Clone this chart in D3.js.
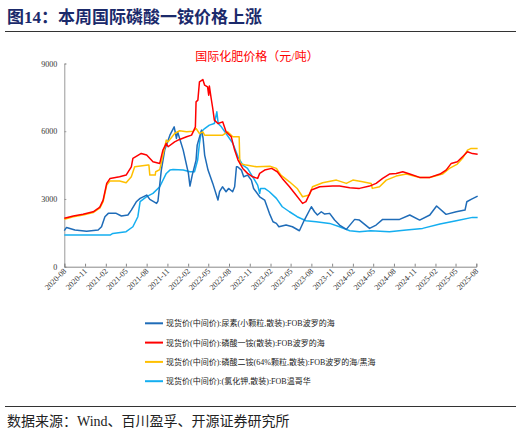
<!DOCTYPE html>
<html>
<head>
<meta charset="utf-8">
<script src="https://cdn.jsdelivr.net/npm/d3@7"></script>
<style>
  body { margin: 0; background: #fff; }
  text { font-family: "Liberation Serif", "Noto Sans CJK SC", serif; }
</style>
</head>
<body>
<svg width="521" height="436"></svg>
<script>
// 尿素 FOB 波罗的海
var urea = [
  ["2020-08-01",1600],["2020-08-11",1740],["2020-09-17",1622],["2020-11-08",1570],["2020-12-29",1622],
  ["2021-01-13",1770],["2021-01-28",2214],["2021-02-12",2362],["2021-03-19",2362],["2021-04-11",2244],
  ["2021-05-10",2288],["2021-05-25",2508],["2021-06-16",2876],["2021-07-03",3025],["2021-08-01",3173],
  ["2021-08-15",2980],["2021-09-14",2805],["2021-09-20",2900],["2021-10-05",4279],["2021-10-20",5164],
  ["2021-11-12",5827],["2021-12-01",6195],["2021-12-11",5680],["2021-12-16",5974],["2022-01-10",5164],
  ["2022-02-02",4133],["2022-02-09",3570],["2022-02-19",4058],["2022-03-08",4721],["2022-03-13",5385],
  ["2022-04-01",6049],["2022-04-08",5700],["2022-04-15",4945],["2022-04-30",4279],["2022-05-21",3690],
  ["2022-06-13",2951],["2022-06-20",3320],["2022-07-03",3540],["2022-07-19",3320],["2022-07-30",3466],
  ["2022-08-17",3320],["2022-08-26",3540],["2022-09-03",4425],["2022-09-08",4425],["2022-09-25",4279],
  ["2022-10-05",3983],["2022-10-22",4058],["2022-11-08",3836],["2022-11-18",3466],["2022-12-15",3098],
  ["2023-01-06",2951],["2023-01-27",2362],["2023-02-12",1992],["2023-02-27",1918],["2023-03-10",1770],
  ["2023-04-11",1845],["2023-05-09",1770],["2023-06-09",1593],["2023-07-01",2066],["2023-08-01",2655],
  ["2023-08-15",2434],["2023-08-28",2288],["2023-09-14",2434],["2023-09-29",2330],["2023-10-21",2362],
  ["2023-11-12",2066],["2023-12-04",1845],["2024-01-03",1653],["2024-02-09",2096],["2024-03-01",2066],
  ["2024-04-15",1697],["2024-05-14",1845],["2024-06-12",2096],["2024-08-26",2096],["2024-10-10",2288],
  ["2024-11-23",2066],["2025-01-07",2288],["2025-02-06",2686],["2025-03-20",2318],["2025-05-04",2434],
  ["2025-06-12",2508],["2025-06-20",2876],["2025-07-09",2982],["2025-08-07",3128]
];

// 磷酸一铵 FOB 波罗的海
var map = [
  ["2020-08-01",2150],["2020-09-10",2250],["2020-10-23",2320],["2020-12-07",2430],["2020-12-29",2580],
  ["2021-01-06",2650],["2021-01-20",2950],["2021-02-05",3690],["2021-02-20",3910],["2021-04-03",3983],
  ["2021-05-02",4058],["2021-05-25",4425],["2021-06-01",4797],["2021-07-08",5017],["2021-08-01",4945],
  ["2021-08-29",4650],["2021-09-28",4575],["2021-10-12",5164],["2021-10-27",5460],["2021-11-04",5312],
  ["2021-12-03",5531],["2021-12-25",5637],["2022-01-25",5753],["2022-02-16",5827],["2022-02-23",5974],
  ["2022-03-05",6195],["2022-03-08",7302],["2022-03-16",7376],["2022-03-23",8186],["2022-04-07",8290],
  ["2022-04-15",8040],["2022-04-28",7965],["2022-05-03",7596],["2022-05-06",8000],["2022-05-14",7450],
  ["2022-05-21",7007],["2022-05-28",6491],["2022-06-13",6343],["2022-07-04",6416],["2022-07-19",5974],
  ["2022-08-11",5753],["2022-08-26",5164],["2022-09-10",4721],["2022-10-01",4350],["2022-10-22",4133],
  ["2022-11-14",3983],["2022-12-06",3911],["2022-12-15",4133],["2023-01-06",4279],["2023-02-06",4354],
  ["2023-03-03",4206],["2023-03-25",3911],["2023-04-26",3540],["2023-05-25",3173],["2023-06-23",2805],
  ["2023-07-08",2880],["2023-08-01",3394],["2023-09-07",3540],["2023-11-03",3570],["2023-12-04",3571],
  ["2024-01-18",3500],["2024-03-01",3469],["2024-04-15",3571],["2024-05-14",3690],["2024-06-12",3911],
  ["2024-07-12",4102],["2024-08-11",4130],["2024-09-09",4204],["2024-10-10",4102],["2024-11-23",3955],
  ["2025-01-07",3955],["2025-02-21",4102],["2025-03-20",4279],["2025-04-12",4575],["2025-05-09",4646],
  ["2025-06-01",4868],["2025-06-23",5089],["2025-07-15",5010],["2025-08-07",4980]
];

// 磷酸二铵 FOB 波罗的海/黑海
var dap = [
  ["2020-08-01",2100],["2020-09-10",2214],["2020-10-23",2290],["2020-12-07",2400],["2020-12-29",2550],
  ["2021-01-06",2600],["2021-01-20",2880],["2021-02-05",3614],["2021-02-20",3800],["2021-04-03",3800],
  ["2021-05-02",3720],["2021-05-25",3983],["2021-06-09",4425],["2021-08-07",4500],["2021-08-11",4500],
  ["2021-08-15",4058],["2021-09-08",4058],["2021-09-10",4206],["2021-09-28",4300],["2021-10-27",5606],
  ["2021-11-04",5530],["2021-12-03",5900],["2021-12-25",6020],["2022-01-25",5974],["2022-02-23",6000],
  ["2022-03-08",6120],["2022-03-23",5900],["2022-04-07",5974],["2022-04-15",5827],["2022-07-04",5827],
  ["2022-07-26",5974],["2022-08-18",5753],["2022-09-15",5753],["2022-09-18",4575],["2022-10-16",4500],
  ["2022-12-01",4425],["2023-01-29",4450],["2023-02-27",4354],["2023-03-19",4058],["2023-04-26",3761],
  ["2023-05-30",3466],["2023-06-23",3098],["2023-07-23",3173],["2023-08-06",3540],["2023-09-20",3717],
  ["2023-11-20",3836],["2024-01-03",3690],["2024-02-01",3836],["2024-03-15",3761],["2024-04-22",3690],
  ["2024-04-27",3469],["2024-05-29",3540],["2024-06-28",3836],["2024-08-11",4014],["2024-09-25",4102],
  ["2024-11-23",3955],["2025-01-07",3955],["2025-03-04",4102],["2025-04-04",4354],["2025-05-09",4545],
  ["2025-06-01",4800],["2025-06-23",5164],["2025-07-09",5240],["2025-08-07",5240]
];

// 氯化钾 FOB 温哥华
var potash = [
  ["2020-08-01",1400],["2021-02-20",1400],["2021-03-04",1475],["2021-05-02",1549],["2021-06-01",1770],
  ["2021-06-23",2214],["2021-07-03",2880],["2021-08-01",3100],["2021-08-29",3247],["2021-09-28",3540],
  ["2021-10-27",4130],["2021-11-12",4279],["2021-11-26",4300],["2022-01-10",4279],["2022-02-09",4206],
  ["2022-03-01",4206],["2022-03-15",4721],["2022-03-23",5460],["2022-03-31",5974],["2022-04-15",6120],
  ["2022-05-06",6270],["2022-05-28",6343],["2022-06-08",6860],["2022-06-14",6345],["2022-06-28",6195],
  ["2022-07-19",5900],["2022-08-18",5460],["2022-09-10",4870],["2022-10-01",4500],["2022-10-22",4354],
  ["2022-11-14",3983],["2022-12-06",3614],["2022-12-15",3247],["2022-12-19",3466],["2023-01-06",3466],
  ["2023-01-27",3320],["2023-02-27",3025],["2023-03-25",2655],["2023-04-26",2434],["2023-05-30",2214],
  ["2023-07-08",2036],["2023-08-22",1992],["2023-10-21",1918],["2023-12-04",1770],["2024-01-18",1593],
  ["2024-03-01",1549],["2024-04-20",1593],["2024-07-12",1549],["2024-09-25",1622],["2024-12-06",1697],
  ["2025-02-21",1889],["2025-05-04",2036],["2025-07-15",2184],["2025-08-07",2184]
];

var seriesNames = [
  "现货价(中间价):尿素(小颗粒,散装):FOB波罗的海",
  "现货价(中间价):磷酸一铵(散装):FOB波罗的海",
  "现货价(中间价):磷酸二铵(64%颗粒,散装):FOB波罗的海/黑海",
  "现货价(中间价):(氯化钾,散装):FOB温哥华"
];
var seriesColors = ["#1f6cb8", "#ff0000", "#ffc000", "#14aef0"];
var yTicks = [0, 3000, 6000, 9000];
var xTickLabels = [
  "2020-08","2020-11","2021-02","2021-05","2021-08","2021-11","2022-02","2022-05",
  "2022-08","2022-11","2023-02","2023-05","2023-08","2023-11","2024-02","2024-05",
  "2024-08","2024-11","2025-02","2025-05","2025-08"
];

var parse = d3.timeParse("%Y-%m-%d");
var parseMonth = d3.timeParse("%Y-%m");
var svg = d3.select("svg");

svg.append("rect").attr("width", 521).attr("height", 436).attr("fill", "#fff");

// page title
svg.append("text").attr("x", 7).attr("y", 23)
  .attr("font-size", 17).attr("font-weight", "bold").attr("fill", "#1b2a6b")
  .text("图14：本周国际磷酸一铵价格上涨");
svg.append("line").attr("x1", 5).attr("x2", 516).attr("y1", 31.5).attr("y2", 31.5)
  .attr("stroke", "#333").attr("stroke-width", 1);

// chart title
svg.append("text").attr("x", 257).attr("y", 61).attr("text-anchor", "middle")
  .attr("font-size", 12).attr("fill", "#ff0000")
  .text("国际化肥价格（元/吨）");

var scX = d3.scaleTime()
  .domain([parse("2020-08-01"), parse("2025-08-01")])
  .range([64.3, 476.3]);
var scY = d3.scaleLinear().domain([0, 9000]).range([266.7, 63.5]);

// axes
var axY = d3.axisRight(scY).tickValues(yTicks).tickSize(2).tickFormat(d3.format("d"));
var gY = svg.append("g").attr("transform", "translate(64.3,0)").call(axY);
gY.select(".domain").attr("stroke", "#999");
gY.selectAll(".tick line").attr("stroke", "#999");
gY.selectAll(".tick text").attr("x", -7).attr("text-anchor", "end")
  .attr("font-size", 8).attr("fill", "#333").attr("font-family", "Liberation Serif");

var xTicks = xTickLabels.map(parseMonth);
var axX = d3.axisTop(scX).tickValues(xTicks).tickSize(3).tickFormat(d3.timeFormat("%Y-%m"));
var gX = svg.append("g").attr("transform", "translate(0,266.7)").call(axX);
gX.select(".domain").attr("stroke", "#888");
gX.selectAll(".tick line").attr("stroke", "#888");
gX.selectAll(".tick text")
  .attr("y", 0).attr("dy", 0)
  .attr("text-anchor", "end")
  .attr("transform", "translate(2,5) rotate(-45)")
  .attr("font-size", 8).attr("fill", "#333").attr("font-family", "Liberation Serif");

// lines
var allSeries = [urea, map, dap, potash];
var lnMkr = d3.line().x(d => scX(parse(d[0]))).y(d => scY(d[1]));
var drawOrder = [3, 0, 2, 1];
drawOrder.forEach(function (i) {
  svg.append("path")
    .attr("fill", "none").attr("stroke", seriesColors[i])
    .attr("stroke-width", 1.5).attr("stroke-linejoin", "round")
    .attr("d", lnMkr(allSeries[i]));
});

// legend
var lg = svg.append("g").selectAll("g").data(seriesNames).enter().append("g")
  .attr("transform", (d, i) => "translate(145," + (323.3 + i * 19.3) + ")");
lg.append("line").attr("x1", 0).attr("x2", 18)
  .attr("stroke", (d, i) => seriesColors[i]).attr("stroke-width", 2);
lg.append("text").attr("x", 21).attr("y", 3)
  .attr("font-size", 8).attr("fill", "#222")
  .text(d => d);

// source
svg.append("line").attr("x1", 5).attr("x2", 516).attr("y1", 406.5).attr("y2", 406.5)
  .attr("stroke", "#333").attr("stroke-width", 1);
svg.append("text").attr("x", 7).attr("y", 426)
  .attr("font-size", 14).attr("fill", "#222")
  .text("数据来源：Wind、百川盈孚、开源证券研究所");
</script>
</body>
</html>
